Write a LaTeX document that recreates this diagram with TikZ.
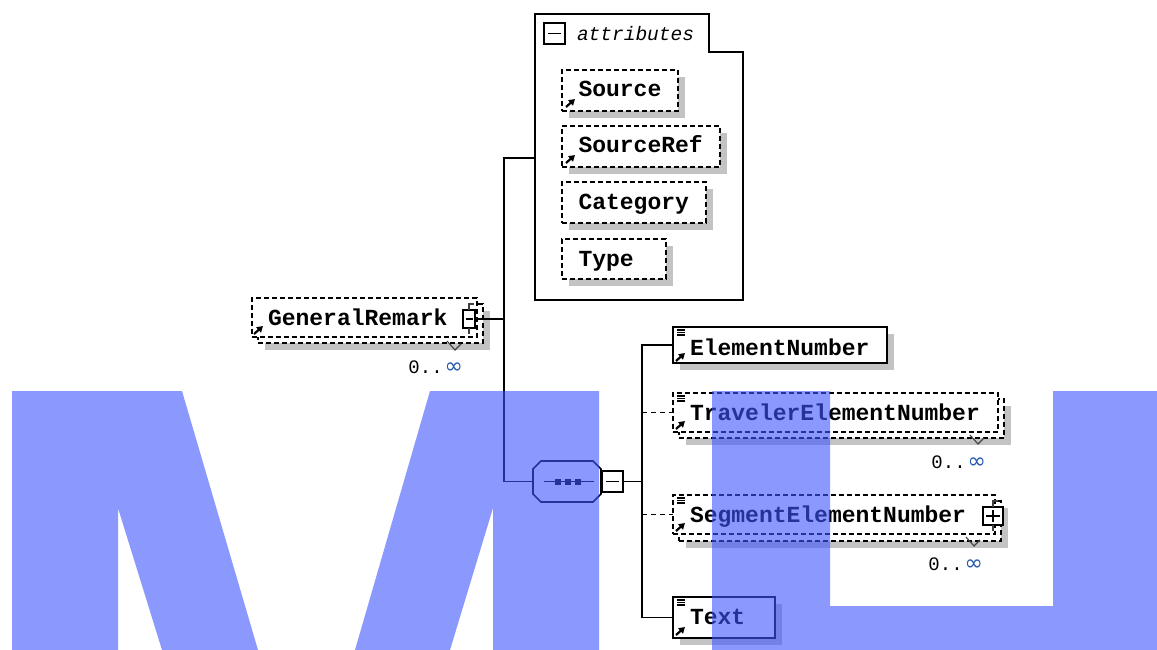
\documentclass[tikz,border=0pt]{standalone}
\usepackage{fontspec}
\newfontfamily\mono{Liberation Mono}
\newfontfamily\djv{DejaVu Sans}
\usetikzlibrary{calc,arrows.meta,shadows}
\definecolor{shadowgrey}{RGB}{195,195,195}
\definecolor{infc}{RGB}{40,90,170}
\definecolor{wmark}{RGB}{63,85,255}
\begin{document}
\begin{tikzpicture}[x=1pt,y=-1pt,
  every node/.style={inner sep=0pt,outer sep=0pt},
  box/.style={rectangle,draw=black,line width=1.8pt,fill=white,anchor=north west},
  opt/.style={box,line width=1.6pt,dash pattern=on 5pt off 3pt},
  shad/.style={general shadow={fill=shadowgrey,shadow xshift=7pt,shadow yshift=-7pt}},
  lbl/.style={font=\mono\bfseries\fontsize{23}{24}\selectfont,anchor=base west},
  cnt/.style={font=\mono\fontsize{19}{20}\selectfont,anchor=base east},
  conn/.style={draw=black,line width=1.8pt},
  optconn/.style={conn,line width=1.6pt,dash pattern=on 5pt off 4pt},
  refarr/.style={line width=2.2pt,-{Triangle[length=6pt,width=7pt]}},
  txticon/.style={line width=1.2pt},
  tick/.style={line width=1.1pt,draw=black!75},
  btn/.style={rectangle,draw=black,line width=1.8pt,fill=white,anchor=north west}
]
\path[use as bounding box,fill=white] (0,0) rectangle (1157,650);

% ---------- attributes group ----------
\node[anchor=north west,minimum width=208pt,minimum height=286pt] (attr) at (535,14) {};
\draw[line width=1.8pt,fill=white] (attr.north west) -- ($(attr.north east)+(-34,0)$) -- ($(attr.north east)+(-34,38)$) -- ($(attr.north east)+(0,38)$) -- (attr.south east) -- (attr.south west) -- cycle;
\node[btn,minimum width=21pt,minimum height=21pt] (attrbtn) at (544,23) {};
\draw[line width=1.6pt] ($(attrbtn.west)+(4,0)$) -- ($(attrbtn.east)+(-4,0)$);
\node[font=\mono\itshape\fontsize{19.5}{20}\selectfont,anchor=base west] (attrlbl) at (577,41) {attributes};

\node[opt,shad,minimum width=116pt,minimum height=41pt] (src) at (562,70) {};
\node[lbl] (srct) at ($(src.north west)+(16.5,27)$) {Source};
\draw[refarr] ($(src.south west)+(4,-4)$) -- ++(9,-8);

\node[opt,shad,minimum width=158pt,minimum height=41pt] (sref) at (562,126) {};
\node[lbl] (sreft) at ($(sref.north west)+(16.5,27)$) {SourceRef};
\draw[refarr] ($(sref.south west)+(4,-4)$) -- ++(9,-8);

\node[opt,shad,minimum width=144pt,minimum height=41pt] (cat) at (562,182) {};
\node[lbl] (catt) at ($(cat.north west)+(16.5,27)$) {Category};

\node[opt,shad,minimum width=104pt,minimum height=40pt] (typ) at (562,239) {};
\node[lbl] (typt) at ($(typ.north west)+(16.5,27)$) {Type};

% ---------- GeneralRemark ----------
\node[opt,shad,minimum width=225pt,minimum height=39pt] (grback) at (258,304) {};
\node[opt,minimum width=225pt,minimum height=39pt] (gr) at (252,298) {};
\node[lbl] (grt) at ($(gr.north west)+(16,27)$) {GeneralRemark};
\draw[refarr] ($(gr.south west)+(2,-3)$) -- ++(9,-8);
\node[btn,minimum width=12pt,minimum height=18pt] (grbtn) at (463,310) {};
\draw[line width=1.6pt] ($(grbtn.west)+(2.5,0)$) -- ($(grbtn.east)+(-2.5,0)$);
\draw[tick] (grbtn.north) -- ++(0,-6) -- ++(5,0);
\draw[tick] (grbtn.south) -- ++(0,6);
\draw[tick] (447,341) -- (455,350) -- (461,344);
\node[cnt] (grcnt) at (463,373) {0..\hspace{2pt}{\djv\fontsize{22}{22}\selectfont\color{infc}∞}};

% ---------- sequence compositor ----------
\node[minimum width=68pt,minimum height=41pt] (seq) at (567,481.5) {};
\begin{scope}[shift={(7,7)}]
\fill[shadowgrey] ($(seq.north west)+(8,0)$) -- ($(seq.north east)+(-8,0)$) -- ($(seq.north east)+(0,8)$) -- ($(seq.south east)+(0,-8)$) -- ($(seq.south east)+(-8,0)$) -- ($(seq.south west)+(8,0)$) -- ($(seq.south west)+(0,-8)$) -- ($(seq.north west)+(0,8)$) -- cycle;
\end{scope}
\draw[line width=1.6pt,fill=white] ($(seq.north west)+(8,0)$) -- ($(seq.north east)+(-8,0)$) -- ($(seq.north east)+(0,8)$) -- ($(seq.south east)+(0,-8)$) -- ($(seq.south east)+(-8,0)$) -- ($(seq.south west)+(8,0)$) -- ($(seq.south west)+(0,-8)$) -- ($(seq.north west)+(0,8)$) -- cycle;
\draw[line width=1.5pt] ($(seq.west)+(11,0)$) -- ($(seq.east)+(-7,0)$);
\foreach \dx in {-9,1,11} \fill ($(seq.center)+(\dx-3,-3)$) rectangle ++(6,6);
\node[btn,minimum width=21pt,minimum height=21pt] (seqbtn) at (602,471) {};
\draw[line width=1.6pt] ($(seqbtn.west)+(4,0)$) -- ($(seqbtn.east)+(-4,0)$);

% ---------- children ----------
\node[box,shad,minimum width=214pt,minimum height=36pt] (en) at (673,327) {};
\node[lbl] (ent) at ($(en.north west)+(17,28)$) {ElementNumber};
\draw[refarr] ($(en.south west)+(3,-2)$) -- ++(9,-8);
\foreach \dy in {3,5.5,8} \draw[txticon] ($(en.north west)+(4,\dy)$) -- ++(8,0);

\node[opt,shad,minimum width=325pt,minimum height=39pt] (trback) at (679,399) {};
\node[opt,minimum width=325pt,minimum height=39pt] (tr) at (673,393) {};
\node[lbl] (trt) at ($(tr.north west)+(17,27.5)$) {TravelerElementNumber};
\draw[refarr] ($(tr.south west)+(3,-3)$) -- ++(9,-8);
\foreach \dy in {3,5.5,8} \draw[txticon] ($(tr.north west)+(4,\dy)$) -- ++(8,0);
\draw[tick] (970,435) -- (978,444) -- (984,438);
\node[cnt] (trcnt) at (986,468) {0..\hspace{2pt}{\djv\fontsize{22}{22}\selectfont\color{infc}∞}};

\node[opt,shad,minimum width=322pt,minimum height=40pt] (sgback) at (679,501) {};
\node[opt,minimum width=322pt,minimum height=39pt] (sg) at (673,495) {};
\node[lbl] (sgt) at ($(sg.north west)+(17,27.5)$) {SegmentElementNumber};
\draw[refarr] ($(sg.south west)+(3,-3)$) -- ++(9,-8);
\foreach \dy in {3,5.5,8} \draw[txticon] ($(sg.north west)+(4,\dy)$) -- ++(8,0);
\node[btn,minimum width=20pt,minimum height=18pt] (sgbtn) at (983,507) {};
\draw[line width=1.6pt] ($(sgbtn.west)+(3,0)$) -- ($(sgbtn.east)+(-3,0)$);
\draw[line width=1.6pt] ($(sgbtn.north)+(0,3)$) -- ($(sgbtn.south)+(0,-3)$);
\draw[tick] (sgbtn.north) -- ++(0,-6) -- ++(5,0);
\draw[tick] (sgbtn.south) -- ++(0,6);
\draw[tick] (966,537) -- (974,546) -- (980,540);
\node[cnt] (sgcnt) at (983,570) {0..\hspace{2pt}{\djv\fontsize{22}{22}\selectfont\color{infc}∞}};

\node[box,shad,minimum width=102pt,minimum height=41pt] (txt) at (673,597) {};
\node[lbl] (txtt) at ($(txt.north west)+(17,27.5)$) {Text};
\draw[refarr] ($(txt.south west)+(3,-3)$) -- ++(9,-8);
\foreach \dy in {3,5.5,8} \draw[txticon] ($(txt.north west)+(4,\dy)$) -- ++(8,0);

% ---------- connectors ----------
\coordinate (tA) at (504,158);
\coordinate (tB) at (504,481.5);
\draw[conn] (grbtn.east) -- (grbtn.east -| tA);
\draw[conn] (attr.west |- tA) -- (tA) -- (tB) -- (seq.west);
\coordinate (cA) at (642,345);
\draw[conn] (seqbtn.east) -- (seqbtn.east -| cA);
\draw[conn] (en.west) -- (en.west -| cA) -- (txt.west -| cA) -- (txt.west);
\draw[optconn] (tr.west -| cA) -- (tr.west);
\draw[optconn] (sg.west -| cA) -- (sg.west);

% ---------- watermark ----------
\begin{scope}[fill=wmark,fill opacity=0.6]
\fill (12,391) -- (182,391) -- (258,650) -- (162,650) -- (118,508) -- (118,650) -- (12,650) -- cycle;
\fill (430,391) -- (599,391) -- (599,650) -- (493,650) -- (493,508) -- (450,650) -- (355,650) -- cycle;
\fill (712,391) -- (830,391) -- (830,606) -- (1053,606) -- (1053,391) -- (1157,391) -- (1157,650) -- (712,650) -- cycle;
\end{scope}
\end{tikzpicture}
\end{document}
